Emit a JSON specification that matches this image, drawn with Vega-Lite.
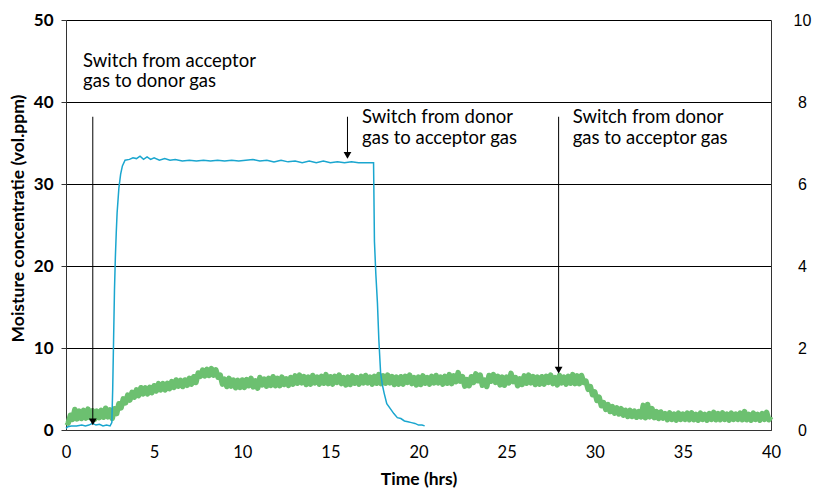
{
  "$schema": "https://vega.github.io/schema/vega-lite/v6.json",
  "width": 705,
  "height": 410,
  "autosize": "none",
  "padding": {"left": 66, "top": 20, "right": 46, "bottom": 62},
  "background": "white",
  "config": {"view": {"stroke": null}, "font": "Lato"},
  "datasets": {
    "blue": [
      {"t":0,"v":0.2},{"t":0.1,"v":0.4},{"t":0.3,"v":0.5},{"t":0.6,"v":0.5},{"t":0.9,"v":0.6},{"t":1.1,"v":0.5},{"t":1.3,"v":0.6},{"t":1.5,"v":0.8},{"t":1.7,"v":0.6},{"t":1.9,"v":0.7},{"t":2.1,"v":0.5},{"t":2.3,"v":0.6},{"t":2.5,"v":0.5},{"t":2.6,"v":0.9},{"t":2.65,"v":5},{"t":2.7,"v":11},{"t":2.75,"v":17},{"t":2.8,"v":21},{"t":2.85,"v":24},{"t":2.9,"v":26.5},{"t":3.0,"v":29.5},{"t":3.1,"v":31.2},{"t":3.2,"v":32.2},{"t":3.35,"v":32.9},{"t":3.6,"v":33.0},{"t":3.8,"v":33.2},{"t":4.0,"v":33.1},{"t":4.2,"v":33.4},{"t":4.4,"v":33.0},{"t":4.6,"v":33.3},{"t":4.8,"v":33.0},{"t":5.0,"v":33.2},{"t":5.3,"v":32.9},{"t":5.6,"v":33.1},{"t":5.9,"v":32.9},{"t":6.2,"v":33.0},{"t":6.6,"v":32.8},{"t":7.0,"v":32.9},{"t":7.4,"v":32.8},{"t":7.8,"v":32.9},{"t":8.2,"v":32.8},{"t":8.6,"v":32.9},{"t":9.0,"v":32.8},{"t":9.4,"v":32.9},{"t":9.8,"v":32.8},{"t":10.2,"v":32.9},{"t":10.6,"v":33.0},{"t":11.0,"v":32.8},{"t":11.4,"v":32.9},{"t":11.8,"v":32.7},{"t":12.2,"v":32.9},{"t":12.6,"v":32.7},{"t":13.0,"v":32.8},{"t":13.4,"v":32.6},{"t":13.8,"v":32.8},{"t":14.2,"v":32.6},{"t":14.6,"v":32.8},{"t":15.0,"v":32.6},{"t":15.4,"v":32.7},{"t":15.8,"v":32.6},{"t":16.2,"v":32.7},{"t":16.6,"v":32.6},{"t":17.0,"v":32.6},{"t":17.45,"v":32.6},{"t":17.5,"v":23},{"t":17.58,"v":19},{"t":17.67,"v":15.5},{"t":17.75,"v":11},{"t":17.85,"v":7},{"t":17.95,"v":5.5},{"t":18.05,"v":4.5},{"t":18.2,"v":3.2},{"t":18.4,"v":2.6},{"t":18.6,"v":2.0},{"t":18.8,"v":1.5},{"t":19.0,"v":1.4},{"t":19.2,"v":1.1},{"t":19.4,"v":1.0},{"t":19.6,"v":0.9},{"t":19.8,"v":0.8},{"t":20.0,"v":0.6},{"t":20.2,"v":0.6},{"t":20.35,"v":0.5}
    ],
    "green": [
      {"t":0,"v":0.2},{"t":0.125,"v":0.17},{"t":0.25,"v":0.36},{"t":0.375,"v":0.26},{"t":0.5,"v":0.5},{"t":0.625,"v":0.27},{"t":0.75,"v":0.46},{"t":0.875,"v":0.28},
      {"t":1.0,"v":0.48},{"t":1.125,"v":0.29},{"t":1.25,"v":0.51},{"t":1.375,"v":0.3},{"t":1.5,"v":0.47},{"t":1.625,"v":0.26},{"t":1.75,"v":0.46},{"t":1.875,"v":0.3},
      {"t":2.0,"v":0.48},{"t":2.125,"v":0.31},{"t":2.25,"v":0.53},{"t":2.375,"v":0.32},{"t":2.5,"v":0.49},{"t":2.625,"v":0.28},{"t":2.75,"v":0.52},{"t":2.875,"v":0.4},
      {"t":3.0,"v":0.64},{"t":3.125,"v":0.54},{"t":3.25,"v":0.76},{"t":3.375,"v":0.66},{"t":3.5,"v":0.85},{"t":3.625,"v":0.73},{"t":3.75,"v":0.92},{"t":3.875,"v":0.8},
      {"t":4.0,"v":0.98},{"t":4.125,"v":0.84},{"t":4.25,"v":1.03},{"t":4.375,"v":0.88},{"t":4.5,"v":1.03},{"t":4.625,"v":0.88},{"t":4.75,"v":1.04},{"t":4.875,"v":0.91},
      {"t":5.0,"v":1.08},{"t":5.125,"v":0.95},{"t":5.25,"v":1.13},{"t":5.375,"v":0.98},{"t":5.5,"v":1.13},{"t":5.625,"v":0.98},{"t":5.75,"v":1.14},{"t":5.875,"v":1.01},
      {"t":6.0,"v":1.18},{"t":6.125,"v":1.04},{"t":6.25,"v":1.22},{"t":6.375,"v":1.07},{"t":6.5,"v":1.21},{"t":6.625,"v":1.06},{"t":6.75,"v":1.22},{"t":6.875,"v":1.09},
      {"t":7.0,"v":1.26},{"t":7.125,"v":1.12},{"t":7.25,"v":1.3},{"t":7.375,"v":1.16},{"t":7.5,"v":1.39},{"t":7.625,"v":1.31},{"t":7.75,"v":1.46},{"t":7.875,"v":1.32},
      {"t":8.0,"v":1.48},{"t":8.125,"v":1.33},{"t":8.25,"v":1.5},{"t":8.375,"v":1.34},{"t":8.5,"v":1.47},{"t":8.625,"v":1.29},{"t":8.75,"v":1.34},{"t":8.875,"v":1.12},
      {"t":9.0,"v":1.24},{"t":9.125,"v":1.06},{"t":9.25,"v":1.26},{"t":9.375,"v":1.07},{"t":9.5,"v":1.22},{"t":9.625,"v":1.03},{"t":9.75,"v":1.21},{"t":9.875,"v":1.04},
      {"t":10.0,"v":1.22},{"t":10.125,"v":1.04},{"t":10.25,"v":1.23},{"t":10.375,"v":1.08},{"t":10.5,"v":1.26},{"t":10.625,"v":1.05},{"t":10.75,"v":1.2},{"t":10.875,"v":1.02},
      {"t":11.0,"v":1.28},{"t":11.125,"v":1.1},{"t":11.25,"v":1.24},{"t":11.375,"v":1.07},{"t":11.5,"v":1.26},{"t":11.625,"v":1.09},{"t":11.75,"v":1.3},{"t":11.875,"v":1.08},
      {"t":12.0,"v":1.26},{"t":12.125,"v":1.08},{"t":12.25,"v":1.29},{"t":12.375,"v":1.11},{"t":12.5,"v":1.25},{"t":12.625,"v":1.09},{"t":12.75,"v":1.28},{"t":12.875,"v":1.12},
      {"t":13.0,"v":1.32},{"t":13.125,"v":1.14},{"t":13.25,"v":1.34},{"t":13.375,"v":1.15},{"t":13.5,"v":1.3},{"t":13.625,"v":1.11},{"t":13.75,"v":1.29},{"t":13.875,"v":1.12},
      {"t":14.0,"v":1.33},{"t":14.125,"v":1.15},{"t":14.25,"v":1.29},{"t":14.375,"v":1.12},{"t":14.5,"v":1.31},{"t":14.625,"v":1.14},{"t":14.75,"v":1.35},{"t":14.875,"v":1.13},
      {"t":15.0,"v":1.3},{"t":15.125,"v":1.12},{"t":15.25,"v":1.31},{"t":15.375,"v":1.16},{"t":15.5,"v":1.34},{"t":15.625,"v":1.13},{"t":15.75,"v":1.28},{"t":15.875,"v":1.1},
      {"t":16.0,"v":1.29},{"t":16.125,"v":1.11},{"t":16.25,"v":1.32},{"t":16.375,"v":1.14},{"t":16.5,"v":1.28},{"t":16.625,"v":1.12},{"t":16.75,"v":1.31},{"t":16.875,"v":1.15},
      {"t":17.0,"v":1.33},{"t":17.125,"v":1.15},{"t":17.25,"v":1.29},{"t":17.375,"v":1.12},{"t":17.5,"v":1.31},{"t":17.625,"v":1.14},{"t":17.75,"v":1.35},{"t":17.875,"v":1.13},
      {"t":18.0,"v":1.32},{"t":18.125,"v":1.14},{"t":18.25,"v":1.34},{"t":18.375,"v":1.15},{"t":18.5,"v":1.3},{"t":18.625,"v":1.11},{"t":18.75,"v":1.29},{"t":18.875,"v":1.12},
      {"t":19.0,"v":1.3},{"t":19.125,"v":1.12},{"t":19.25,"v":1.31},{"t":19.375,"v":1.16},{"t":19.5,"v":1.34},{"t":19.625,"v":1.13},{"t":19.75,"v":1.28},{"t":19.875,"v":1.1},
      {"t":20.0,"v":1.29},{"t":20.125,"v":1.11},{"t":20.25,"v":1.32},{"t":20.375,"v":1.14},{"t":20.5,"v":1.28},{"t":20.625,"v":1.12},{"t":20.75,"v":1.31},{"t":20.875,"v":1.15},
      {"t":21.0,"v":1.33},{"t":21.125,"v":1.15},{"t":21.25,"v":1.29},{"t":21.375,"v":1.12},{"t":21.5,"v":1.31},{"t":21.625,"v":1.14},{"t":21.75,"v":1.35},{"t":21.875,"v":1.13},
      {"t":22.0,"v":1.32},{"t":22.125,"v":1.18},{"t":22.25,"v":1.4},{"t":22.375,"v":1.19},{"t":22.5,"v":1.3},{"t":22.625,"v":1.07},{"t":22.75,"v":1.23},{"t":22.875,"v":1.08},
      {"t":23.0,"v":1.3},{"t":23.125,"v":1.16},{"t":23.25,"v":1.37},{"t":23.375,"v":1.2},{"t":23.5,"v":1.34},{"t":23.625,"v":1.09},{"t":23.75,"v":1.22},{"t":23.875,"v":1.06},
      {"t":24.0,"v":1.33},{"t":24.125,"v":1.19},{"t":24.25,"v":1.35},{"t":24.375,"v":1.16},{"t":24.5,"v":1.31},{"t":24.625,"v":1.1},{"t":24.75,"v":1.29},{"t":24.875,"v":1.09},
      {"t":25.0,"v":1.29},{"t":25.125,"v":1.15},{"t":25.25,"v":1.38},{"t":25.375,"v":1.18},{"t":25.5,"v":1.28},{"t":25.625,"v":1.08},{"t":25.75,"v":1.25},{"t":25.875,"v":1.11},
      {"t":26.0,"v":1.32},{"t":26.125,"v":1.14},{"t":26.25,"v":1.34},{"t":26.375,"v":1.15},{"t":26.5,"v":1.3},{"t":26.625,"v":1.11},{"t":26.75,"v":1.29},{"t":26.875,"v":1.12},
      {"t":27.0,"v":1.3},{"t":27.125,"v":1.12},{"t":27.25,"v":1.31},{"t":27.375,"v":1.16},{"t":27.5,"v":1.34},{"t":27.625,"v":1.13},{"t":27.75,"v":1.28},{"t":27.875,"v":1.1},
      {"t":28.0,"v":1.33},{"t":28.125,"v":1.15},{"t":28.25,"v":1.29},{"t":28.375,"v":1.12},{"t":28.5,"v":1.31},{"t":28.625,"v":1.14},{"t":28.75,"v":1.35},{"t":28.875,"v":1.13},
      {"t":29.0,"v":1.32},{"t":29.125,"v":1.13},{"t":29.25,"v":1.33},{"t":29.375,"v":1.16},{"t":29.5,"v":1.19},{"t":29.625,"v":0.99},{"t":29.75,"v":1.06},{"t":29.875,"v":0.86},
      {"t":30.0,"v":0.93},{"t":30.125,"v":0.72},{"t":30.25,"v":0.8},{"t":30.375,"v":0.59},{"t":30.5,"v":0.67},{"t":30.625,"v":0.5},{"t":30.75,"v":0.62},{"t":30.875,"v":0.45},
      {"t":31.0,"v":0.57},{"t":31.125,"v":0.41},{"t":31.25,"v":0.54},{"t":31.375,"v":0.39},{"t":31.5,"v":0.52},{"t":31.625,"v":0.36},{"t":31.75,"v":0.48},{"t":31.875,"v":0.33},
      {"t":32.0,"v":0.48},{"t":32.125,"v":0.33},{"t":32.25,"v":0.46},{"t":32.375,"v":0.31},{"t":32.5,"v":0.45},{"t":32.625,"v":0.32},{"t":32.75,"v":0.6},{"t":32.875,"v":0.3},
      {"t":33.0,"v":0.62},{"t":33.125,"v":0.32},{"t":33.25,"v":0.52},{"t":33.375,"v":0.3},{"t":33.5,"v":0.45},{"t":33.625,"v":0.28},{"t":33.75,"v":0.44},{"t":33.875,"v":0.29},
      {"t":34.0,"v":0.4},{"t":34.125,"v":0.25},{"t":34.25,"v":0.42},{"t":34.375,"v":0.26},{"t":34.5,"v":0.39},{"t":34.625,"v":0.24},{"t":34.75,"v":0.41},{"t":34.875,"v":0.26},
      {"t":35.0,"v":0.39},{"t":35.125,"v":0.26},{"t":35.25,"v":0.41},{"t":35.375,"v":0.25},{"t":35.5,"v":0.42},{"t":35.625,"v":0.25},{"t":35.75,"v":0.38},{"t":35.875,"v":0.24},
      {"t":36.0,"v":0.41},{"t":36.125,"v":0.26},{"t":36.25,"v":0.38},{"t":36.375,"v":0.24},{"t":36.5,"v":0.4},{"t":36.625,"v":0.26},{"t":36.75,"v":0.43},{"t":36.875,"v":0.25},
      {"t":37.0,"v":0.4},{"t":37.125,"v":0.25},{"t":37.25,"v":0.42},{"t":37.375,"v":0.26},{"t":37.5,"v":0.39},{"t":37.625,"v":0.24},{"t":37.75,"v":0.41},{"t":37.875,"v":0.26},
      {"t":38.0,"v":0.39},{"t":38.125,"v":0.26},{"t":38.25,"v":0.41},{"t":38.375,"v":0.25},{"t":38.5,"v":0.45},{"t":38.625,"v":0.25},{"t":38.75,"v":0.38},{"t":38.875,"v":0.24},
      {"t":39.0,"v":0.41},{"t":39.125,"v":0.26},{"t":39.25,"v":0.38},{"t":39.375,"v":0.24},{"t":39.5,"v":0.4},{"t":39.625,"v":0.26},{"t":39.75,"v":0.43},{"t":39.875,"v":0.25},
      {"t":40.0,"v":0.33}
    ],
    "arrows": [
      {"t":1.52,"top":38.2,"tip":1.0},
      {"t":15.97,"top":38.2,"tip":33.5},
      {"t":27.95,"top":38.2,"tip":7.3}
    ],
    "notes": [
      {"t":0.97,"y":44.3,"label":"Switch from acceptor\ngas to donor gas"},
      {"t":16.8,"y":37.4,"label":"Switch from donor\ngas to acceptor gas"},
      {"t":28.75,"y":37.4,"label":"Switch from donor\ngas to acceptor gas"}
    ]
  },
  "layer": [
    {
      "data": {"name": "green"},
      "mark": {"type": "line", "color": "#6cc070", "strokeWidth": 5.5, "strokeJoin": "round"},
      "encoding": {
        "x": {"field": "t", "type": "quantitative", "scale": {"domain": [0, 40]}},
        "y": {
          "field": "v", "type": "quantitative", "scale": {"domain": [0, 10]},
          "axis": {"orient": "right", "values": [0, 2, 4, 6, 8, 10], "ticks": false, "grid": false,
            "domainColor": "#333", "labelFont": "Liberation Sans", "labelFontSize": 16,
            "labelAlign": "center", "labelPadding": 31, "labelColor": "#000", "title": null}
        }
      }
    },
    {
      "layer": [
        {
          "data": {"name": "blue"},
          "mark": {"type": "line", "color": "#1aa6cf", "strokeWidth": 1.5},
          "encoding": {
            "x": {"field": "t", "type": "quantitative", "scale": {"domain": [0, 40]},
              "axis": {"values": [0, 5, 10, 15, 20, 25, 30, 35, 40], "ticks": false, "grid": false, "labelFlush": false,
                "domainColor": "#333", "labelFontSize": 16.5, "labelColor": "#000", "labelPadding": 14,
                "title": "Time (hrs)", "titleFontSize": 17.5, "titleFontWeight": "bold", "titleColor": "#000", "titlePadding": 10}},
            "y": {"field": "v", "type": "quantitative", "scale": {"domain": [0, 50]},
              "axis": {"values": [0, 10, 20, 30, 40, 50], "grid": true, "gridColor": "#000", "gridOpacity": 1,
                "domainColor": "#333", "tickColor": "#333", "tickSize": 5, "labelPadding": 8,
                "labelFontSize": 17, "labelFontWeight": "bold", "labelColor": "#000",
                "title": "Moisture concentratie (vol.ppm)", "titleFontSize": 17.5, "titleFontWeight": "bold",
                "titleColor": "#000", "titlePadding": 6, "titleY": 198}}
          }
        },
        {
          "data": {"name": "arrows"},
          "mark": {"type": "rule", "color": "#000", "strokeWidth": 1},
          "encoding": {
            "x": {"field": "t", "type": "quantitative"},
            "y": {"field": "top", "type": "quantitative"},
            "y2": {"field": "tip"}
          }
        },
        {
          "data": {"name": "arrows"},
          "mark": {"type": "point", "shape": "triangle-down", "filled": true, "color": "#000", "size": 60, "opacity": 1},
          "encoding": {
            "x": {"field": "t", "type": "quantitative"},
            "y": {"field": "tip", "type": "quantitative"}
          }
        },
        {
          "data": {"name": "notes"},
          "mark": {"type": "text", "align": "left", "baseline": "alphabetic", "fontSize": 18.5, "lineHeight": 20.5, "lineBreak": "\n", "color": "#000"},
          "encoding": {
            "x": {"field": "t", "type": "quantitative"},
            "y": {"field": "y", "type": "quantitative"},
            "text": {"field": "label"}
          }
        }
      ]
    }
  ],
  "resolve": {"scale": {"y": "independent"}}
}
